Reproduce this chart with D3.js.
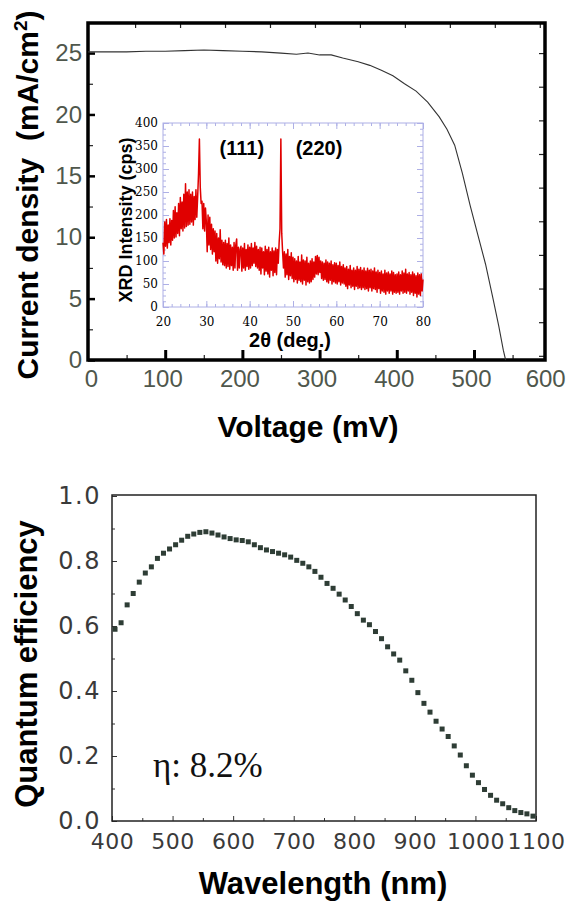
<!DOCTYPE html>
<html lang="en">
<head>
<meta charset="utf-8">
<title>J-V curve, XRD inset and quantum efficiency</title>
<script src="https://d3js.org/d3.v7.min.js"></script>
<style>
  body { margin: 0; background: #fff; }
  svg { display: block; }
  .bold { font-family: "Liberation Sans", Arial, sans-serif; font-weight: bold; fill: #000; }
</style>
</head>
<body>
<div id="chart"></div>
<script>
// ---- J-V curve (voltage mV, current density mA/cm2)
var jvVoltage = [0, 25, 50, 75, 100, 125, 150, 175, 200, 225, 250, 270, 285, 300, 315, 330, 350, 365,
  380, 395, 410, 425, 440, 455, 465, 475, 485, 495, 505, 515, 525, 532, 538, 541];
var jvCurrent = [25.1, 25.1, 25.1, 25.15, 25.15, 25.2, 25.25, 25.2, 25.15, 25.1, 25.0, 24.9, 25.0, 24.85,
  24.85, 24.6, 24.3, 24.0, 23.6, 23.15, 22.5, 21.9, 21.0, 19.8, 18.8, 17.5, 15.2, 12.6, 10.2, 7.8, 4.9, 2.8, 0.8, 0];
var jvXTicks = [0, 100, 200, 300, 400, 500, 600];
var jvYTicks = [0, 5, 10, 15, 20, 25];

// ---- XRD inset, one reading every 0.2 deg from 20 to 80 deg
var xrdCounts = [
  140,115,185,132,190,128,178,140,192,135,
  188,145,210,150,218,152,205,160,225,155,
  238,170,228,165,245,172,268,175,250,178,
  255,180,245,185,250,178,240,190,255,195,
  240,290,365,260,225,230,170,225,165,215,
  185,120,200,135,195,125,180,115,170,120,
  165,100,160,95,150,105,168,98,145,92,
  140,90,145,85,138,88,150,82,135,90,
  130,80,140,85,135,148,80,130,85,125,
  132,78,128,85,138,80,125,88,135,82,
  130,85,138,90,128,95,140,88,132,85,
  125,80,130,72,128,85,120,70,132,78,
  125,72,130,65,120,80,128,68,122,75,
  128,70,125,95,140,170,365,160,120,85,
  120,65,115,70,125,60,110,68,118,62,
  108,55,105,60,100,52,110,58,98,55,
  113,50,102,58,100,48,108,55,95,52,
  100,55,105,60,98,65,110,72,112,70,
  108,75,100,62,98,58,95,60,102,55,
  98,52,95,58,100,50,92,55,96,52,
  95,50,90,55,98,48,88,52,92,50,
  85,45,88,40,82,48,90,42,80,45,
  85,38,80,45,88,40,82,42,86,38,
  80,42,85,38,78,40,84,35,80,42,
  82,35,78,40,85,38,76,32,80,40,
  75,30,78,35,72,32,80,28,74,35,
  76,30,72,35,78,28,75,32,70,30,
  72,32,76,28,70,35,78,30,74,32,
  82,30,72,35,75,28,70,32,76,25,
  72,30,68,22,74,28,70,25,72,35,
  60];
var xrdXTicks = [20, 30, 40, 50, 60, 70, 80];
var xrdYTicks = [0, 50, 100, 150, 200, 250, 300, 350, 400];
var peakLabels = ["(111)", "(220)"];
var peakAngles = [38.2, 56.0];

// ---- quantum efficiency
var qeWavelength = [405, 415, 425, 435, 445, 455, 465, 475, 485, 495, 505, 515, 525, 535, 545, 555, 565, 575,
  585, 595, 605, 615, 625, 635, 645, 655, 665, 675, 685, 695, 705, 715, 725, 735, 745, 755, 765, 775, 785, 795,
  805, 815, 825, 835, 845, 855, 865, 875, 885, 895, 905, 915, 925, 935, 945, 955, 965, 975, 985, 995, 1005,
  1015, 1025, 1035, 1045, 1055, 1065, 1075, 1085, 1095];
var qeValue = [0.59, 0.61, 0.665, 0.70, 0.735, 0.763, 0.782, 0.808, 0.824, 0.837, 0.850, 0.864, 0.876, 0.883,
  0.888, 0.890, 0.886, 0.880, 0.874, 0.869, 0.865, 0.863, 0.859, 0.850, 0.841, 0.834, 0.829, 0.824, 0.819,
  0.812, 0.802, 0.793, 0.782, 0.768, 0.750, 0.731, 0.716, 0.698, 0.680, 0.660, 0.638, 0.618, 0.604, 0.583,
  0.561, 0.536, 0.514, 0.495, 0.462, 0.433, 0.395, 0.362, 0.335, 0.307, 0.283, 0.260, 0.231, 0.203, 0.170,
  0.141, 0.118, 0.097, 0.079, 0.064, 0.053, 0.041, 0.032, 0.026, 0.022, 0.015];
var qeXTicks = [400, 500, 600, 700, 800, 900, 1000, 1100];
var qeYTicks = [0, 0.2, 0.4, 0.6, 0.8, 1.0];

var svg = d3.select("#chart").append("svg").attr("width", 579).attr("height", 911);

// ================= top: J-V =================
var jx = d3.scaleLinear().domain([0, 592]).range([88, 545]);
var jy = d3.scaleLinear().domain([0, 27.45]).range([360, 23]);

// minor / frame ticks
svg.append("g").attr("transform", "translate(0,360)")
  .call(d3.axisBottom(jx).tickValues(d3.range(50, 600, 100)).tickSizeInner(-5).tickSizeOuter(0).tickFormat(""))
  .call(function (g) { g.select(".domain").remove(); g.selectAll("line").attr("stroke", "#222").attr("stroke-width", 1.2); });
svg.append("g").attr("transform", "translate(88,0)")
  .call(d3.axisLeft(jy).tickValues(d3.range(2.5, 27, 5)).tickSizeInner(-5).tickSizeOuter(0).tickFormat(""))
  .call(function (g) { g.select(".domain").remove(); g.selectAll("line").attr("stroke", "#222").attr("stroke-width", 1.2); });
svg.append("g").attr("transform", "translate(0,23)")
  .call(d3.axisTop(jx).tickValues(d3.range(61, 590, 58.25)).tickSizeInner(-5).tickSizeOuter(0).tickFormat(""))
  .call(function (g) { g.select(".domain").remove(); g.selectAll("line").attr("stroke", "#222").attr("stroke-width", 1.2); });
svg.append("g").attr("transform", "translate(545,0)")
  .call(d3.axisRight(jy).tickValues(d3.range(25, 0, -2.74)).tickSizeInner(-6).tickSizeOuter(0).tickFormat(""))
  .call(function (g) { g.select(".domain").remove(); g.selectAll("line").attr("stroke", "#222").attr("stroke-width", 1.2); });

// major ticks + labels
var jxAxis = svg.append("g").attr("transform", "translate(0,360)")
  .call(d3.axisBottom(jx).tickValues(jvXTicks).tickSizeInner(-10).tickSizeOuter(0).tickPadding(10).tickFormat(d3.format("d")));
jxAxis.select(".domain").remove();
jxAxis.selectAll("line").attr("stroke", "#000").attr("stroke-width", 3)
  .attr("display", function (d) { return d === 0 || d >= 600 ? "none" : null; });
jxAxis.selectAll("text").attr("font-family", "Liberation Sans, Arial, sans-serif").attr("font-size", 24)
  .attr("fill", "#4f574c").attr("x", function (d) { return d === 0 ? 3 : d >= 600 ? -6 : -3; });

var jyAxis = svg.append("g").attr("transform", "translate(88,0)")
  .call(d3.axisLeft(jy).tickValues(jvYTicks).tickSizeInner(-7).tickSizeOuter(0).tickPadding(6));
jyAxis.select(".domain").remove();
jyAxis.selectAll("line").attr("stroke", "#000").attr("stroke-width", 2.5);
jyAxis.selectAll("text").attr("font-family", "Liberation Sans, Arial, sans-serif").attr("font-size", 24)
  .attr("fill", "#4f574c");

// frame
svg.append("rect").attr("x", 88).attr("y", 23).attr("width", 457).attr("height", 337)
  .attr("fill", "none").attr("stroke", "#000").attr("stroke-width", 3.5);

var jvPoints = jvVoltage.map(function (v, i) { return [v, jvCurrent[i]]; });
svg.append("path").datum(jvPoints)
  .attr("fill", "none").attr("stroke", "#333").attr("stroke-width", 1.1)
  .attr("d", d3.line().x(function (d) { return jx(d[0]); }).y(function (d) { return jy(d[1]); }));

svg.append("text").attr("class", "bold").attr("font-size", 30)
  .attr("transform", "translate(38,195) rotate(-90)").attr("text-anchor", "middle")
  .html('Current density\u00a0 (mA/cm<tspan dy="-11" font-size="19">2</tspan><tspan dy="11">)</tspan>');
svg.append("text").attr("class", "bold").attr("font-size", 30)
  .attr("x", 308).attr("y", 437).attr("text-anchor", "middle").text("Voltage (mV)");

// ================= inset: XRD =================
var ix = d3.scaleLinear().domain([20, 80]).range([163, 423]);
var iy = d3.scaleLinear().domain([0, 400]).range([307, 123]);
var lav = "#aeb0e6";

svg.append("rect").attr("x", 163).attr("y", 123).attr("width", 260).attr("height", 184)
  .attr("fill", "#fff").attr("stroke", lav).attr("stroke-width", 1);

function insetTicks(axis, tr, vals, size) {
  var g = svg.append("g").attr("transform", tr)
    .call(axis.tickValues(vals).tickSizeInner(-size).tickSizeOuter(0).tickFormat(""));
  g.select(".domain").remove();
  g.selectAll("line").attr("stroke", lav).attr("stroke-width", 1);
}
var xMinor = d3.range(22, 80, 2), yMinor = d3.range(12.5, 400, 12.5);
insetTicks(d3.axisBottom(ix), "translate(0,307)", xMinor, 3);
insetTicks(d3.axisTop(ix), "translate(0,123)", xMinor, 3);
insetTicks(d3.axisLeft(iy), "translate(163,0)", yMinor, 3);
insetTicks(d3.axisRight(iy), "translate(423,0)", yMinor, 3);
insetTicks(d3.axisBottom(ix), "translate(0,307)", xrdXTicks, 6);
insetTicks(d3.axisTop(ix), "translate(0,123)", xrdXTicks, 6);
insetTicks(d3.axisLeft(iy), "translate(163,0)", xrdYTicks, 6);
insetTicks(d3.axisRight(iy), "translate(423,0)", xrdYTicks, 6);

var ixAxis = svg.append("g").attr("transform", "translate(0,307)")
  .call(d3.axisBottom(ix).tickValues(xrdXTicks).tickSize(0).tickPadding(10));
ixAxis.select(".domain").remove();
ixAxis.selectAll("text").attr("font-family", "DejaVu Serif, serif").attr("font-size", 12).attr("fill", "#000");
var iyAxis = svg.append("g").attr("transform", "translate(163,0)")
  .call(d3.axisLeft(iy).tickValues(xrdYTicks).tickSize(0).tickPadding(5));
iyAxis.select(".domain").remove();
iyAxis.selectAll("text").attr("font-family", "DejaVu Serif, serif").attr("font-size", 12).attr("fill", "#000");

var xrdPoints = xrdCounts.map(function (c, i) { return [20 + i * 0.2, c]; });
svg.append("path").datum(xrdPoints)
  .attr("fill", "none").attr("stroke", "#e00000").attr("stroke-width", 1.5).attr("stroke-linejoin", "round")
  .attr("d", d3.line().x(function (d) { return ix(d[0]); }).y(function (d) { return iy(d[1]); }));

svg.selectAll(".peak").data(peakLabels).enter().append("text").attr("class", "bold")
  .attr("font-size", 20).attr("text-anchor", "middle")
  .attr("x", function (d, i) { return ix(peakAngles[i]); }).attr("y", 155).text(function (d) { return d; });

svg.append("text").attr("class", "bold").attr("font-size", 18)
  .attr("transform", "translate(132,220) rotate(-90)").attr("text-anchor", "middle").text("XRD Intensity (cps)");
svg.append("text").attr("class", "bold").attr("font-size", 20)
  .attr("x", 290).attr("y", 347).attr("text-anchor", "middle").text("2\u03b8 (deg.)");

// ================= bottom: QE =================
var qx = d3.scaleLinear().domain([400, 1100]).range([112, 536]);
var qy = d3.scaleLinear().domain([0, 1]).range([821, 496]);

svg.append("g").attr("transform", "translate(0,821)")
  .call(d3.axisBottom(qx).tickValues(d3.range(450, 1100, 100)).tickSizeInner(-3).tickSizeOuter(0).tickFormat(""))
  .call(function (g) { g.select(".domain").remove(); g.selectAll("line").attr("stroke", "#333"); });
svg.append("g").attr("transform", "translate(112,0)")
  .call(d3.axisLeft(qy).tickValues(d3.range(0.1, 1, 0.2)).tickSizeInner(-3).tickSizeOuter(0).tickFormat(""))
  .call(function (g) { g.select(".domain").remove(); g.selectAll("line").attr("stroke", "#333"); });

var qxAxis = svg.append("g").attr("transform", "translate(0,821)")
  .call(d3.axisBottom(qx).tickValues(qeXTicks).tickSizeInner(-5).tickSizeOuter(0).tickPadding(12).tickFormat(d3.format("d")));
qxAxis.select(".domain").remove();
qxAxis.selectAll("line").attr("stroke", "#333");
qxAxis.selectAll("text").attr("font-family", "DejaVu Sans, sans-serif").attr("font-size", 22)
  .attr("letter-spacing", 0.5).attr("fill", "#3a3a3a");

var qyAxis = svg.append("g").attr("transform", "translate(112,0)")
  .call(d3.axisLeft(qy).tickValues(qeYTicks).tickSizeInner(-5).tickSizeOuter(0).tickPadding(11).tickFormat(d3.format(".1f")));
qyAxis.select(".domain").remove();
qyAxis.selectAll("line").attr("stroke", "#333");
qyAxis.selectAll("text").attr("font-family", "DejaVu Sans, sans-serif").attr("font-size", 24)
  .attr("letter-spacing", 1.5).attr("fill", "#3a3a3a");

svg.append("rect").attr("x", 112).attr("y", 495).attr("width", 424).attr("height", 326)
  .attr("fill", "none").attr("stroke", "#222").attr("stroke-width", 1.5);

svg.selectAll(".qe").data(qeWavelength).enter().append("rect")
  .attr("x", function (d) { return qx(d) - 2.5; })
  .attr("y", function (d, i) { return qy(qeValue[i]) - 2.5; })
  .attr("width", 5).attr("height", 5).attr("fill", "#2e3d35");

svg.append("text").attr("x", 153).attr("y", 777)
  .attr("font-family", "Liberation Serif, Times New Roman, serif").attr("font-size", 35).attr("fill", "#111")
  .text("\u03b7: 8.2%");

svg.append("text").attr("class", "bold").attr("font-size", 31)
  .attr("transform", "translate(37,664) rotate(-90)").attr("text-anchor", "middle").text("Quantum efficiency");
svg.append("text").attr("class", "bold").attr("font-size", 31)
  .attr("x", 323).attr("y", 894).attr("text-anchor", "middle").text("Wavelength (nm)");
</script>
</body>
</html>
